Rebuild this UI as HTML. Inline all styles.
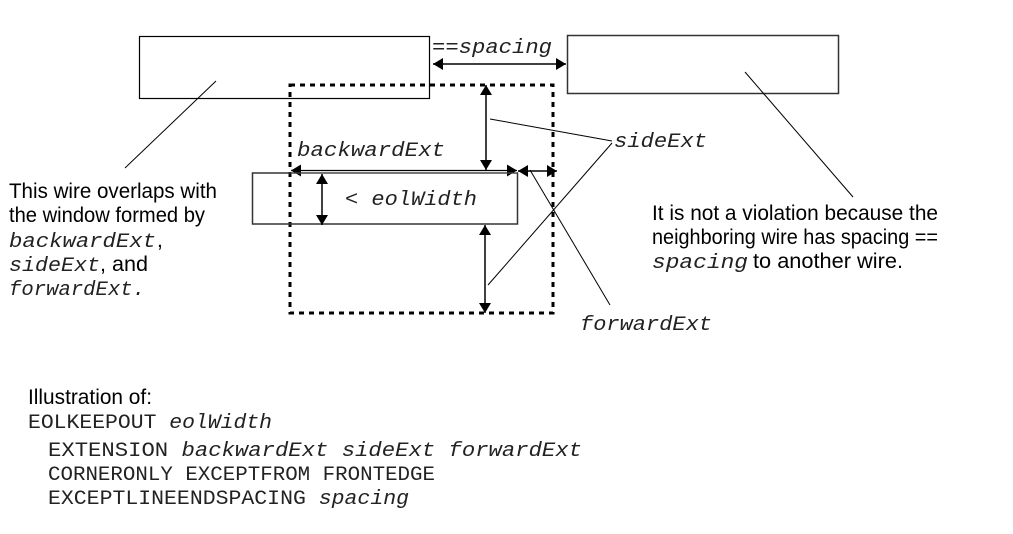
<!DOCTYPE html>
<html><head><meta charset="utf-8"><style>
html,body{margin:0;padding:0;background:#fff;}
svg{display:block;}
.s{font-family:"Liberation Sans",sans-serif;font-size:21px;fill:#000;}
.m{font-family:"Liberation Mono",monospace;font-size:20px;fill:#222;}
.i{font-style:italic;}
</style></head><body>
<svg width="1013" height="534" viewBox="0 0 1013 534" xmlns="http://www.w3.org/2000/svg">
<defs>
<marker id="a" viewBox="0 0 10 12" refX="10" refY="6" markerWidth="10" markerHeight="12" markerUnits="userSpaceOnUse" orient="auto-start-reverse"><path d="M0,0 L10,6 L0,12 z" fill="#000"/></marker>
</defs>
<rect x="139.5" y="36.5" width="290" height="62" fill="none" stroke="#000" stroke-width="1.2"/>
<rect x="567.5" y="35.5" width="271" height="58" fill="none" stroke="#333" stroke-width="1.5"/>
<rect x="290" y="85" width="263" height="228" fill="none" stroke="#000" stroke-width="3" stroke-dasharray="5,5"/>
<rect x="252.5" y="173" width="265" height="51" fill="none" stroke="#333" stroke-width="1.5"/>
<text x="432" y="53" class="m" textLength="120" lengthAdjust="spacingAndGlyphs"><tspan>==</tspan><tspan class="i">spacing</tspan></text>
<line x1="433" y1="64" x2="566" y2="64" stroke="#000" stroke-width="1.5" marker-start="url(#a)" marker-end="url(#a)"/>
<line x1="486" y1="85" x2="486" y2="170" stroke="#000" stroke-width="1.5" marker-start="url(#a)" marker-end="url(#a)"/>
<line x1="291" y1="170.5" x2="517" y2="170.5" stroke="#000" stroke-width="1.2" marker-start="url(#a)" marker-end="url(#a)"/>
<line x1="291" y1="173" x2="517" y2="173" stroke="#555" stroke-width="1"/>
<line x1="518" y1="171" x2="557" y2="171" stroke="#000" stroke-width="1.5" marker-start="url(#a)" marker-end="url(#a)"/>
<line x1="322" y1="174" x2="322" y2="225" stroke="#000" stroke-width="1.5" marker-start="url(#a)" marker-end="url(#a)"/>
<line x1="485" y1="225" x2="485" y2="313" stroke="#000" stroke-width="1.5" marker-start="url(#a)" marker-end="url(#a)"/>
<text x="297" y="156" class="m i" textLength="148" lengthAdjust="spacingAndGlyphs">backwardExt</text>
<text x="345" y="205" class="m" textLength="132" lengthAdjust="spacingAndGlyphs"><tspan>&lt; </tspan><tspan class="i">eolWidth</tspan></text>
<text x="614" y="147" class="m i" textLength="93" lengthAdjust="spacingAndGlyphs">sideExt</text>
<text x="580" y="330" class="m i" textLength="132" lengthAdjust="spacingAndGlyphs">forwardExt</text>
<g stroke="#000" stroke-width="1">
<line x1="490" y1="119" x2="612" y2="141"/>
<line x1="612" y1="143" x2="488" y2="285"/>
<line x1="530" y1="170" x2="610" y2="305"/>
<line x1="216" y1="81" x2="125" y2="168"/>
<line x1="745" y1="72" x2="853" y2="197"/>
</g>
<text x="9" y="198" class="s" textLength="208" lengthAdjust="spacingAndGlyphs">This wire overlaps with</text>
<text x="9" y="222" class="s" textLength="196" lengthAdjust="spacingAndGlyphs">the window formed by</text>
<text x="9" y="247" class="m i" textLength="147" lengthAdjust="spacingAndGlyphs">backwardExt</text>
<text x="157" y="247" class="s">,</text>
<text x="9" y="271" class="m i" textLength="91" lengthAdjust="spacingAndGlyphs">sideExt</text>
<text x="100" y="271" class="s" textLength="48" lengthAdjust="spacingAndGlyphs">, and</text>
<text x="9" y="295" class="m i" textLength="136" lengthAdjust="spacingAndGlyphs">forwardExt.</text>
<text x="652" y="220" class="s" textLength="286" lengthAdjust="spacingAndGlyphs">It is not a violation because the</text>
<text x="652" y="244" class="s" textLength="286" lengthAdjust="spacingAndGlyphs">neighboring wire has spacing ==</text>
<text x="652" y="268" class="m i" textLength="96" lengthAdjust="spacingAndGlyphs">spacing</text>
<text x="753" y="268" class="s" textLength="150" lengthAdjust="spacingAndGlyphs">to another wire.</text>
<text x="28" y="404" class="s" textLength="124" lengthAdjust="spacingAndGlyphs">Illustration of:</text>
<text x="28" y="428" class="m" textLength="244" lengthAdjust="spacingAndGlyphs"><tspan>EOLKEEPOUT </tspan><tspan class="i">eolWidth</tspan></text>
<text x="48" y="456" class="m" textLength="534" lengthAdjust="spacingAndGlyphs"><tspan>EXTENSION </tspan><tspan class="i">backwardExt sideExt forwardExt</tspan></text>
<text x="48" y="480" class="m" textLength="387" lengthAdjust="spacingAndGlyphs">CORNERONLY EXCEPTFROM FRONTEDGE</text>
<text x="48" y="504" class="m" textLength="361" lengthAdjust="spacingAndGlyphs"><tspan>EXCEPTLINEENDSPACING </tspan><tspan class="i">spacing</tspan></text>
</svg>
</body></html>
